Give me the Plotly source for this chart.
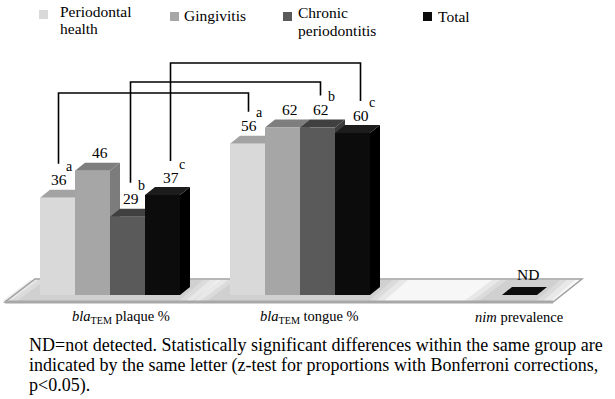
import plotly.graph_objects as go

# ---------------- data ----------------
categories = ["<i>bla</i><sub>TEM</sub> plaque %",
              "<i>bla</i><sub>TEM</sub> tongue %",
              "<i>nim</i> prevalence"]
series_names = [["Periodontal", "health"], ["Gingivitis"], ["Chronic", "periodontitis"], ["Total"]]
periodontal_health = [36, 56, None]
gingivitis = [46, 62, None]
chronic_periodontitis = [29, 62, None]
total = [37, 60, 0]
not_detected = [False, False, True]          # ND category
sig_letters = ["a", "", "b", "c"]            # same letter = significant difference
caption_lines = [
    "ND=not detected. Statistically significant differences within the same group are",
    "indicated by the same letter (z-test for proportions with Bonferroni corrections,",
    "p<0.05).",
]
series_values = [periodontal_health, gingivitis, chronic_periodontitis, total]

# ---------------- layout / style constants ----------------
W, H = 615, 399
ZERO_PX = 295          # pixel row of value 0
PX_PER_UNIT = 2.7
GROUP_CX = [110, 300, 519.5]
LABEL_CX = [121, 309, 519]
BAR_W = 35
DX_PX, DY_PX = 10, 8
FRONT = ["#d9d9d9", "#a6a6a6", "#5a5a5a", "#0c0c0c"]
TOP = ["#a3a3a3", "#7e7e7e", "#404040", "#1c1c1c"]
SIDE = ["#b5b5b5", "#7c7c7c", "#3c3c3c", "#000000"]
LABEL_DX = [1, 7, 3, 8]
BRACKET_TOP_PX = {"a": 93, "b": 82, "c": 63}
SERIF = "Liberation Serif, Times New Roman, serif"


def yv(px):
    return (ZERO_PX - px) / PX_PER_UNIT


DY = DY_PX / PX_PER_UNIT
DX = DX_PX

fig = go.Figure()
shapes = []
annotations = []

# floor platform (decoration)
FT, FB = 279, 302
floor = [(35, FT), (582, FT), (553, FB), (5, FB)]
path = "M " + " L ".join(f"{x},{yv(y)}" for x, y in floor) + " Z"
shapes.append(dict(type="path", path=path, xref="x", yref="y", layer="below",
                   fillcolor="#f7f7f7", line=dict(color="#a0a0a0", width=1.5)))

# soft shadows around bar groups on the floor
for g in range(len(categories)):
    present = [s for s in range(4) if series_values[s][g] is not None]
    half = len(present) * BAR_W / 2
    xl, xr = GROUP_CX[g] - half, GROUP_CX[g] + half + DX
    for e in (22, 14, 7):
        pts = [(xl - e + 12, FT + 1), (xr + e + 6, FT + 1), (xr + e - 18, FB - 1), (xl - e - 16, FB - 1)]
        p = "M " + " L ".join(f"{x},{yv(y)}" for x, y in pts) + " Z"
        shapes.append(dict(type="path", path=p, xref="x", yref="y", layer="below",
                           fillcolor="#9a9a9a", opacity=0.16, line=dict(width=0)))
shapes.append(dict(type="line", xref="x", yref="y", layer="below",
                   x0=5, y0=yv(FB), x1=553, y1=yv(FB),
                   line=dict(color="#a8a8a8", width=3)))

# slot positions
slot_x = [[None] * len(categories) for _ in range(4)]
for g in range(len(categories)):
    present = [s for s in range(4) if series_values[s][g] is not None]
    n = len(present)
    for k, s in enumerate(present):
        slot_x[s][g] = GROUP_CX[g] - n * BAR_W / 2 + BAR_W * (k + 0.5)

# 3D faces (side + top) as shapes beneath the front bars
for s in range(4):
    for g in range(len(categories)):
        v = series_values[s][g]
        if v is None:
            continue
        cx = slot_x[s][g]
        x0, x1 = cx - BAR_W / 2, cx + BAR_W / 2
        if v > 0:
            side = f"M {x1},0 L {x1+DX},{DY} L {x1+DX},{v+DY} L {x1},{v} Z"
            shapes.append(dict(type="path", path=side, xref="x", yref="y", layer="below",
                               fillcolor=SIDE[s], line=dict(width=0)))
        top = f"M {x0},{v} L {x1},{v} L {x1+DX},{v+DY} L {x0+DX},{v+DY} Z"
        shapes.append(dict(type="path", path=top, xref="x", yref="y", layer="below",
                           fillcolor=TOP[s] if v > 0 else FRONT[s], line=dict(width=0)))

# front faces
for s in range(4):
    xs, ys = [], []
    for g in range(len(categories)):
        v = series_values[s][g]
        if v is None or v == 0:
            continue
        xs.append(slot_x[s][g])
        ys.append(v)
    fig.add_trace(go.Bar(x=xs, y=ys, width=BAR_W, marker=dict(color=FRONT[s], line=dict(width=0)),
                         name=" ".join(series_names[s]), showlegend=False, hoverinfo="skip"))

# value labels and letters
LABEL_SHIFT = 18
label_pos = {}
for s in range(4):
    for g in range(len(categories)):
        v = series_values[s][g]
        if v is None:
            continue
        lx = slot_x[s][g] + LABEL_DX[s]
        txt = "ND" if not_detected[g] else str(v)
        annotations.append(dict(x=lx, y=v, xref="x", yref="y", text=txt, showarrow=False,
                                yshift=LABEL_SHIFT + (3 if not_detected[g] else 0),
                                font=dict(family=SERIF, size=15.5, color="#000")))
        label_pos[(s, g)] = (lx, v)
        if sig_letters[s] and not not_detected[g]:
            annotations.append(dict(x=lx, y=v, xref="x", yref="y", text=sig_letters[s],
                                    showarrow=False, xshift=11, yshift=LABEL_SHIFT + 13,
                                    font=dict(family=SERIF, size=14, color="#000")))

# significance brackets between plaque (g=0) and tongue (g=1)
for s in range(4):
    L = sig_letters[s]
    if not L:
        continue
    (xa, va), (xb, vb) = label_pos[(s, 0)], label_pos[(s, 1)]
    ytop = yv(BRACKET_TOP_PX[L])
    ya = va + 34 / PX_PER_UNIT
    yb = vb + 32 / PX_PER_UNIT
    fig.add_trace(go.Scatter(x=[xa, xa, xb, xb], y=[ya, ytop, ytop, yb], mode="lines",
                             line=dict(color="#000", width=1.6), showlegend=False,
                             hoverinfo="skip"))

# category labels
for g, c in enumerate(categories):
    annotations.append(dict(x=LABEL_CX[g], y=yv(317), xref="x", yref="y", text=c,
                            showarrow=False, font=dict(family=SERIF, size=14.5, color="#000")))

# legend (drawn manually)
LEG_SQ_X = [39, 170, 283, 423]
LEG_SQ_Y = [10, 12, 12, 12]
LEG_TX_X = [58, 182, 296, 436]
LEG_TX_Y = [[11, 28], [15], [12, 30], [16]]
for s in range(4):
    shapes.append(dict(type="rect", xref="x", yref="y", x0=LEG_SQ_X[s], x1=LEG_SQ_X[s] + 9,
                       y0=yv(LEG_SQ_Y[s]), y1=yv(LEG_SQ_Y[s] + 9),
                       fillcolor=FRONT[s], line=dict(width=0)))
    for j, part in enumerate(series_names[s]):
        annotations.append(dict(x=LEG_TX_X[s], y=yv(LEG_TX_Y[s][j]), xref="x", yref="y",
                                text=part, showarrow=False, xanchor="left", align="left",
                                font=dict(family=SERIF, size=15.5, color="#000")))

# caption
CAP_Y = [345, 365, 385]
for i, line in enumerate(caption_lines):
    annotations.append(dict(x=27, y=yv(CAP_Y[i]), xref="x", yref="y", text=line,
                            showarrow=False, xanchor="left",
                            font=dict(family=SERIF, size=18, color="#000")))

fig.update_layout(
    width=W, height=H, margin=dict(l=0, r=0, t=0, b=0),
    paper_bgcolor="white", plot_bgcolor="white",
    barmode="overlay",
    font=dict(family=SERIF),
    xaxis=dict(range=[0, W], visible=False, fixedrange=True),
    yaxis=dict(range=[yv(H), yv(0)], visible=False, fixedrange=True),
    shapes=shapes, annotations=annotations, showlegend=False,
)
fig.write_html("out.html", config={"displayModeBar": False},
               post_script="document.body.style.margin='0';")
